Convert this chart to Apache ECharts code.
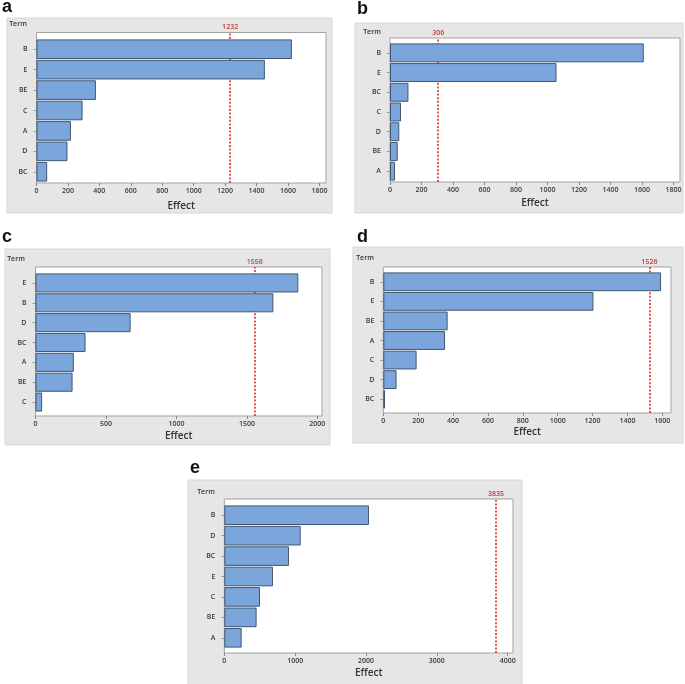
<!DOCTYPE html>
<html><head><meta charset="utf-8">
<script src="https://cdn.jsdelivr.net/npm/echarts@6/dist/echarts.min.js"></script>
<style>html,body{margin:0;padding:0;background:#fff}#c{width:685px;height:684px}</style>
</head><body><div id="c"></div>
<script>
// ---- data ----
const termsA = ['B','E','BE','C','A','D','BC'];
const effectsA = [1625,1453,378,293,219,197,68];
const refA = 1232;
const ticksA = [0,200,400,600,800,1000,1200,1400,1600,1800];

const termsB = ['B','E','BC','C','D','BE','A'];
const effectsB = [1611,1057,117,70,59,49,32];
const refB = 306;
const ticksB = [0,200,400,600,800,1000,1200,1400,1600,1800];

const termsC = ['E','B','D','BC','A','BE','C'];
const effectsC = [1865,1688,675,355,272,263,47];
const refC = 1556;
const ticksC = [0,500,1000,1500,2000];

const termsD = ['B','E','BE','A','C','D','BC'];
const effectsD = [1593,1205,369,354,191,76,10];
const refD = 1526;
const ticksD = [0,200,400,600,800,1000,1200,1400,1600];

const termsE = ['B','D','BC','E','C','BE','A'];
const effectsE = [2042,1078,913,687,504,456,245];
const refE = 3835;
const ticksE = [0,1000,2000,3000,4000];

const panelLetters = ['a','b','c','d','e'];
const axisTitle = 'Effect';
const termTitle = 'Term';

// ---- layout (positions / styles only) ----
const layout = [
  {max:1842, letter:[2,7],   bg:[7,18,332,213],   frame:[36.5,32.5,326,183], data:[39,182],  term:[18,24],  nameGap:18},
  {max:1841, letter:[357,9], bg:[355,23,683,213], frame:[390,38,680,182],    data:[43,181],  term:[372,32], nameGap:16},
  {max:2033, letter:[2,237], bg:[5,249,330,445],  frame:[35.5,267,322,416],  data:[273,412], term:[16,259], nameGap:15},
  {max:1650, letter:[357,237],bg:[353,247,683,443],frame:[383.3,267,671,413],data:[272,409], term:[365,258],nameGap:14},
  {max:4075, letter:[190,468],bg:[188,480,522,690],frame:[224.3,499,513,653],data:[505,648], term:[206,492],nameGap:15}
];
const panelData = [
  {terms:termsA, effects:effectsA, ref:refA, ticks:ticksA},
  {terms:termsB, effects:effectsB, ref:refB, ticks:ticksB},
  {terms:termsC, effects:effectsC, ref:refC, ticks:ticksC},
  {terms:termsD, effects:effectsD, ref:refD, ticks:ticksD},
  {terms:termsE, effects:effectsE, ref:refE, ticks:ticksE}
];

const FONT = 'Open Sans';
const RED = '#dd2b2b';
const grid = [], xAxis = [], yAxis = [], series = [], graphic = [];

panelData.forEach((p, i) => {
  const L = layout[i];
  const [l, t, r, b] = L.frame;
  const fg = 2 * i, dg = 2 * i + 1;
  graphic.push({type:'rect', z:-10, shape:{x:L.bg[0], y:L.bg[1], width:L.bg[2]-L.bg[0], height:L.bg[3]-L.bg[1]},
    style:{fill:'#e6e6e6', stroke:'#d6d6d6', lineWidth:1}});
  graphic.push({type:'text', z:10, x:L.letter[0], y:L.letter[1],
    style:{text:panelLetters[i], font:'bold 18px "Liberation Sans", Arial', fill:'#111', verticalAlign:'middle'}});
  graphic.push({type:'text', z:10, x:L.term[0], y:L.term[1],
    style:{text:termTitle, font:'600 7px "Open Sans"', fill:'#333', align:'center', verticalAlign:'middle'}});

  grid.push({left:l, top:t, width:r-l, height:b-t, show:true, backgroundColor:'#fff', borderColor:'#a3a3a3', borderWidth:1});
  grid.push({left:l, top:L.data[0], width:r-l, height:L.data[1]-L.data[0], show:false});

  xAxis.push({gridIndex:fg, type:'value', min:0, max:L.max,
    axisLine:{show:false}, splitLine:{show:false},
    axisTick:{show:true, length:3, customValues:p.ticks, lineStyle:{color:'#888'}},
    axisLabel:{customValues:p.ticks, formatter:v => String(v), fontSize:7, fontFamily:FONT, fontWeight:600, color:'#3a3a3a', margin:4},
    name:axisTitle, nameLocation:'middle', nameGap:L.nameGap,
    nameTextStyle:{fontSize:10, fontFamily:FONT, fontWeight:600, color:'#333'}});
  yAxis.push({gridIndex:fg, type:'value', min:0, max:1, show:false});
  xAxis.push({gridIndex:dg, type:'value', min:0, max:L.max, show:false});
  yAxis.push({gridIndex:dg, type:'category', data:p.terms, inverse:true,
    axisLine:{show:false},
    axisTick:{show:true, alignWithLabel:true, length:3, lineStyle:{color:'#999'}},
    axisLabel:{fontSize:7, fontFamily:FONT, fontWeight:600, color:'#3a3a3a', margin:9}});

  series.push({type:'line', xAxisIndex:fg, yAxisIndex:fg, data:[], z:1, silent:true,
    markLine:{z:1, silent:true, symbol:'none', animation:false,
      lineStyle:{color:RED, type:[2,1.6], width:1.6},
      label:{show:true, position:'end', formatter:String(p.ref), color:'#c23b3b', fontSize:7, fontFamily:FONT, fontWeight:600, distance:2},
      data:[{xAxis:p.ref}]}});
  series.push({type:'bar', xAxisIndex:dg, yAxisIndex:dg, data:p.effects, z:2, barCategoryGap:'4%',
    itemStyle:{color:'#7ba6dc', borderColor:'#42566f', borderWidth:1}});
});

const chart = echarts.init(document.getElementById('c'), null, {renderer:'canvas'});
chart.setOption({animation:false, backgroundColor:'#fff', grid, xAxis, yAxis, series, graphic});
</script>
</body></html>
